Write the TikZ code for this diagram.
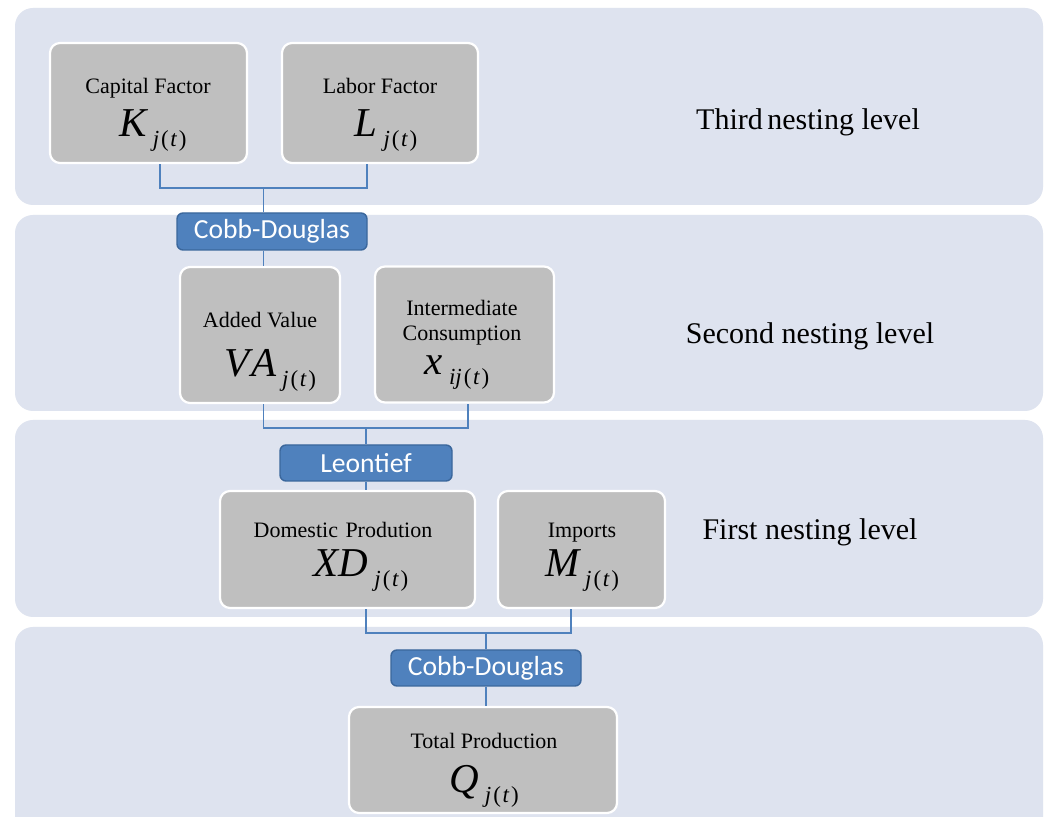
\documentclass[tikz,border=0pt]{standalone}
\usepackage{fontspec}
\setmainfont{Liberation Serif}
\newfontfamily\calibrifont{Carlito}
\usetikzlibrary{calc}
\definecolor{bandc}{HTML}{DEE3EF}
\definecolor{boxc}{HTML}{BFBFBF}
\definecolor{bluec}{HTML}{4F81BD}
\definecolor{bluedk}{HTML}{3B679C}
\newcommand\myvar[2]{{\fontsize{20.5}{20}\selectfont\itshape #1}\hspace{3pt}\raisebox{-5pt}{\fontsize{11.5}{11}\selectfont #2}}
\newcommand\jt{\textit{j}\hspace{1pt}(\hspace{0.8pt}\textit{t}\hspace{0.8pt})}
\tikzset{
  band/.style={fill=bandc, draw=none, rounded corners=9pt},
  gbox/.style={fill=boxc, draw=white, line width=1.1pt, rounded corners=5pt, inner sep=0pt},
  bbox/.style={fill=bluec, draw=bluedk, line width=0.7pt, rounded corners=3pt, inner sep=0pt, text=white, font=\calibrifont\fontsize{13.8}{14}\selectfont},
  conn/.style={draw=bluec, line width=0.7pt},
  ttl/.style={anchor=base, font=\fontsize{11}{12}\selectfont, inner sep=0pt},
  mth/.style={anchor=base, inner sep=0pt},
  lvl/.style={anchor=base, font=\fontsize{15}{16}\selectfont, inner sep=0pt}
}
\begin{document}
\begin{tikzpicture}[x=0.5pt, y=-0.5pt]
\useasboundingbox (0,0) rectangle (1046,817);
\clip (0,0) rectangle (1046,817);
\fill[white] (0,0) rectangle (1046,817);
% bands
\path[band] (15,8) rectangle (1043,205);
\path[band] (15,215) rectangle (1043,411);
\path[band] (15,420) rectangle (1043,617);
\path[band] (15,627) rectangle (1043,860);
% level labels
\node[lvl] (l3) at (808,130) {Third\hspace{-1.5pt} nesting level};
\node[lvl] (l2) at (810,344) {Second nesting level};
\node[lvl] (l1) at (810,540) {First nesting level};
% boxes
\node[gbox, minimum width=197*0.5pt, minimum height=120*0.5pt] (cap) at (148.5,103) {};
\node[gbox, minimum width=196*0.5pt, minimum height=120*0.5pt] (lab) at (380,103) {};
\node[bbox, minimum width=190*0.5pt, minimum height=37*0.5pt] (cd1) at (272,231.5) {Cobb-Douglas};
\node[gbox, minimum width=160*0.5pt, minimum height=136*0.5pt] (av) at (260,335) {};
\node[gbox, minimum width=179*0.5pt, minimum height=136*0.5pt] (ic) at (464.5,334.5) {};
\node[bbox, minimum width=172*0.5pt, minimum height=36*0.5pt] (leo) at (366,463) {Leontief};
\node[gbox, minimum width=255*0.5pt, minimum height=117*0.5pt] (dp) at (347.5,549.5) {};
\node[gbox, minimum width=167*0.5pt, minimum height=117*0.5pt] (imp) at (581.5,549.5) {};
\node[bbox, minimum width=190*0.5pt, minimum height=36*0.5pt] (cd3) at (486,668) {Cobb-Douglas};
\node[gbox, minimum width=268*0.5pt, minimum height=106*0.5pt] (tp) at (483,760) {};
% texts in boxes
\node[ttl] (capt) at (148,94) {Capital Factor};
\node[mth] (capm) at (153,137) {\myvar{K}{\jt}};
\node[ttl] (labt) at (380,94) {Labor Factor};
\node[mth] (labm) at (386,137) {\myvar{L}{\jt}};
\node[ttl] (avt) at (260,328) {Added Value};
\node[mth] (avm) at (270,377) {\myvar{V\hspace{1pt}A}{\jt}};
\node[ttl] (ict1) at (462,316) {Intermediate};
\node[ttl] (ict2) at (462,341) {Consumption};
\node[mth] (icm) at (457,375) {\myvar{x}{\textit{ij}\hspace{1pt}(\hspace{0.8pt}\textit{t}\hspace{0.8pt})}};
\node[ttl] (dpt) at (343,538) {Domestic\hspace{1pt} Prodution};
\node[mth] (dpm) at (361,577) {\myvar{XD}{\jt}};
\node[ttl] (impt) at (582,538) {Imports};
\node[mth] (impm) at (582,577) {\myvar{M}{\jt}};
\node[ttl] (tpt) at (484,749) {Total Production};
\node[mth] (tpm) at (484,793) {\myvar{Q}{\jt}};
% connectors
\coordinate (j1) at (263.5,188);
\coordinate (j2) at (366,428);
\coordinate (j3) at (486,633);
\draw[conn] ($(cap.south)+(11.5,0)$) |- (j1) -| ($(lab.south)+(-13,0)$);
\draw[conn] (j1) -- (j1 |- cd1.north);
\draw[conn] (cd1.south -| j1) -- (av.north -| j1);
\draw[conn] (av.south -| j1) |- (j2) -| ($(ic.south)+(3.5,0)$);
\draw[conn] (j2) -- (leo.north);
\draw[conn] (leo.south) -- (dp.north -| leo.south);
\draw[conn] (dp.south -| leo.south) |- (j3) -| ($(imp.south)+(-10.5,0)$);
\draw[conn] (j3) -- (cd3.north);
\draw[conn] (cd3.south) -- (tp.north -| cd3.south);
\end{tikzpicture}
\end{document}
